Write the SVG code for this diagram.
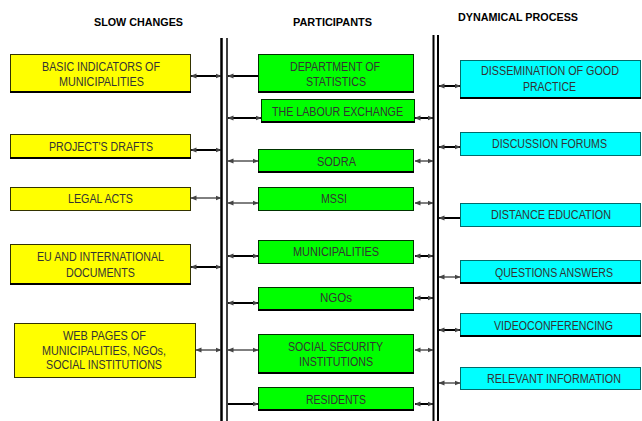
<svg xmlns="http://www.w3.org/2000/svg" width="642" height="421" viewBox="0 0 642 421">
<style>
.hd{font-family:"Liberation Sans",Arial,sans-serif;font-weight:bold;font-size:11px;fill:#000}
.t{font-family:"Liberation Sans",Arial,sans-serif;font-size:12px;fill:#333;text-anchor:start}
.y{fill:#ffff00;stroke:#333300;stroke-width:1}
.g{fill:#00ff00;stroke:#003300;stroke-width:1}
.c{fill:#00ffff;stroke:#006b6b;stroke-width:1}
.sh{fill:#000}
.bar{stroke:#000;fill:none}
.k{stroke:#000;fill:none;stroke-width:2}
.n{stroke:#000;fill:none;stroke-width:1}
.b{marker-start:url(#ah);marker-end:url(#ah)}
.s{marker-start:url(#ah)}
.e{marker-end:url(#ah)}
</style>
<defs>
<marker id="ah" markerUnits="userSpaceOnUse" markerWidth="6" markerHeight="6" viewBox="0 0 6 6" refX="5.5" refY="3" orient="auto-start-reverse">
<path d="M0,0.5 L6,3 L0,5.5 Z" fill="#444"/>
</marker>
</defs>
<rect width="642" height="421" fill="#fff"/>
<g id="headers">
<text class="hd" x="94" y="26" textLength="89" lengthAdjust="spacingAndGlyphs">SLOW CHANGES</text>
<text class="hd" x="293" y="26" textLength="79" lengthAdjust="spacingAndGlyphs">PARTICIPANTS</text>
<text class="hd" x="458" y="21" textLength="120" lengthAdjust="spacingAndGlyphs">DYNAMICAL PROCESS</text>
</g>
<g id="bars">
<line class="bar" x1="221.5" y1="38" x2="221.5" y2="421" stroke-width="2.5"/>
<line class="bar" x1="227" y1="38" x2="227" y2="421" stroke-width="1.5"/>
<line class="bar" x1="433.5" y1="35" x2="433.5" y2="421" stroke-width="2"/>
<line class="bar" x1="438" y1="35" x2="438" y2="421" stroke-width="2"/>
</g>
<g id="connectors">
<line class="k b" x1="191" y1="76" x2="221" y2="76"/>
<line class="k b" x1="191" y1="150" x2="221" y2="150"/>
<line class="n b" x1="191" y1="198" x2="221" y2="198"/>
<line class="k b" x1="191" y1="267" x2="221" y2="267"/>
<line class="n b" x1="196" y1="350" x2="221" y2="350"/>
<line class="k s" x1="228" y1="76" x2="258" y2="76"/>
<line class="k b" x1="228" y1="118" x2="261" y2="118"/>
<line class="n b" x1="228" y1="161" x2="258" y2="161"/>
<line class="n b" x1="228" y1="203" x2="258" y2="203"/>
<line class="k b" x1="228" y1="256" x2="258" y2="256"/>
<line class="k b" x1="228" y1="303" x2="258" y2="303"/>
<line class="n b" x1="228" y1="350" x2="258" y2="350"/>
<line class="k e" x1="228" y1="404" x2="258" y2="404"/>
<line class="k b" x1="415" y1="118" x2="433" y2="118"/>
<line class="n b" x1="415" y1="161" x2="433" y2="161"/>
<line class="n b" x1="415" y1="203" x2="433" y2="203"/>
<line class="k b" x1="415" y1="256" x2="433" y2="256"/>
<line class="k b" x1="415" y1="298" x2="433" y2="298"/>
<line class="n b" x1="415" y1="350" x2="433" y2="350"/>
<line class="k b" x1="415" y1="404" x2="433" y2="404"/>
<line class="k b" x1="439" y1="86" x2="460" y2="86"/>
<line class="k b" x1="439" y1="147" x2="460" y2="147"/>
<line class="k s" x1="439" y1="218" x2="460" y2="218"/>
<line class="n b" x1="439" y1="277" x2="460" y2="277"/>
<line class="k b" x1="439" y1="330" x2="460" y2="330"/>
<line class="n b" x1="439" y1="383" x2="460" y2="383"/>
</g>
<g id="basic-indicators">
<rect class="y" x="10.5" y="54.5" width="180" height="37"/><rect class="sh" x="10" y="91" width="181" height="2"/>
<text class="t" x="42" y="71" textLength="118" lengthAdjust="spacingAndGlyphs">BASIC INDICATORS OF</text>
<text class="t" x="59" y="86" textLength="85" lengthAdjust="spacingAndGlyphs">MUNICIPALITIES</text>
</g>
<g id="projects-drafts">
<rect class="y" x="10.5" y="134.5" width="180" height="23"/><rect class="sh" x="10" y="157" width="181" height="2"/>
<text class="t" x="49" y="151" textLength="104" lengthAdjust="spacingAndGlyphs">PROJECT'S DRAFTS</text>
</g>
<g id="legal-acts">
<rect class="y" x="10.5" y="187.5" width="180" height="23"/>
<text class="t" x="68" y="203" textLength="65" lengthAdjust="spacingAndGlyphs">LEGAL ACTS</text>
</g>
<g id="eu-documents">
<rect class="y" x="10.5" y="244.5" width="180" height="39"/><rect class="sh" x="10" y="283" width="181" height="2"/>
<text class="t" x="37" y="261" textLength="127" lengthAdjust="spacingAndGlyphs">EU AND INTERNATIONAL</text>
<text class="t" x="66" y="277" textLength="69" lengthAdjust="spacingAndGlyphs">DOCUMENTS</text>
</g>
<g id="web-pages">
<rect class="y" x="14.5" y="323.5" width="181" height="54"/>
<text class="t" x="63" y="340" textLength="83" lengthAdjust="spacingAndGlyphs">WEB PAGES OF</text>
<text class="t" x="42" y="355" textLength="124" lengthAdjust="spacingAndGlyphs">MUNICIPALITIES, NGOs,</text>
<text class="t" x="46" y="369" textLength="116" lengthAdjust="spacingAndGlyphs">SOCIAL INSTITUTIONS</text>
</g>
<g id="dept-statistics">
<rect class="g" x="258.5" y="54.5" width="155" height="37"/><rect class="sh" x="258" y="91" width="156" height="2"/>
<text class="t" x="290" y="71" textLength="90" lengthAdjust="spacingAndGlyphs">DEPARTMENT OF</text>
<text class="t" x="306" y="86" textLength="60" lengthAdjust="spacingAndGlyphs">STATISTICS</text>
</g>
<g id="labour-exchange">
<rect class="g" x="261.5" y="99.5" width="153" height="22"/><rect class="sh" x="261" y="121" width="154" height="2"/>
<text class="t" x="272" y="116" textLength="131" lengthAdjust="spacingAndGlyphs">THE LABOUR EXCHANGE</text>
</g>
<g id="sodra">
<rect class="g" x="258.5" y="149.5" width="155" height="22"/><rect class="sh" x="258" y="171" width="156" height="2"/>
<text class="t" x="317" y="166" textLength="39" lengthAdjust="spacingAndGlyphs">SODRA</text>
</g>
<g id="mssi">
<rect class="g" x="258.5" y="187.5" width="155" height="23"/>
<text class="t" x="321" y="203" textLength="26" lengthAdjust="spacingAndGlyphs">MSSI</text>
</g>
<g id="municipalities">
<rect class="g" x="258.5" y="240.5" width="155" height="23"/>
<text class="t" x="293" y="256" textLength="86" lengthAdjust="spacingAndGlyphs">MUNICIPALITIES</text>
</g>
<g id="ngos">
<rect class="g" x="258.5" y="287.5" width="155" height="22"/><rect class="sh" x="258" y="309" width="156" height="2"/>
<text class="t" x="320" y="302" textLength="32" lengthAdjust="spacingAndGlyphs">NGOs</text>
</g>
<g id="social-security">
<rect class="g" x="258.5" y="334.5" width="155" height="38"/><rect class="sh" x="258" y="372" width="156" height="2"/>
<text class="t" x="288" y="351" textLength="95" lengthAdjust="spacingAndGlyphs">SOCIAL SECURITY</text>
<text class="t" x="299" y="366" textLength="74" lengthAdjust="spacingAndGlyphs">INSTITUTIONS</text>
</g>
<g id="residents">
<rect class="g" x="258.5" y="387.5" width="155" height="22"/><rect class="sh" x="258" y="409" width="156" height="2"/>
<text class="t" x="306" y="404" textLength="60" lengthAdjust="spacingAndGlyphs">RESIDENTS</text>
</g>
<g id="dissemination">
<rect class="c" x="460.5" y="60.5" width="180" height="37"/><rect class="sh" x="460" y="97" width="181" height="2"/>
<text class="t" x="481" y="75" textLength="138" lengthAdjust="spacingAndGlyphs">DISSEMINATION OF GOOD</text>
<text class="t" x="523" y="91" textLength="53" lengthAdjust="spacingAndGlyphs">PRACTICE</text>
</g>
<g id="discussion-forums">
<rect class="c" x="460.5" y="132.5" width="180" height="23"/>
<text class="t" x="492" y="148" textLength="115" lengthAdjust="spacingAndGlyphs">DISCUSSION FORUMS</text>
</g>
<g id="distance-education">
<rect class="c" x="460.5" y="203.5" width="180" height="23"/>
<text class="t" x="491" y="219" textLength="120" lengthAdjust="spacingAndGlyphs">DISTANCE EDUCATION</text>
</g>
<g id="questions-answers">
<rect class="c" x="460.5" y="260.5" width="180" height="22"/><rect class="sh" x="460" y="282" width="181" height="2"/>
<text class="t" x="495" y="277" textLength="118" lengthAdjust="spacingAndGlyphs">QUESTIONS ANSWERS</text>
</g>
<g id="videoconferencing">
<rect class="c" x="460.5" y="313.5" width="180" height="22"/><rect class="sh" x="460" y="335" width="181" height="2"/>
<text class="t" x="494" y="330" textLength="119" lengthAdjust="spacingAndGlyphs">VIDEOCONFERENCING</text>
</g>
<g id="relevant-information">
<rect class="c" x="460.5" y="367.5" width="180" height="22"/>
<text class="t" x="487" y="383" textLength="134" lengthAdjust="spacingAndGlyphs">RELEVANT INFORMATION</text>
</g>
</svg>
